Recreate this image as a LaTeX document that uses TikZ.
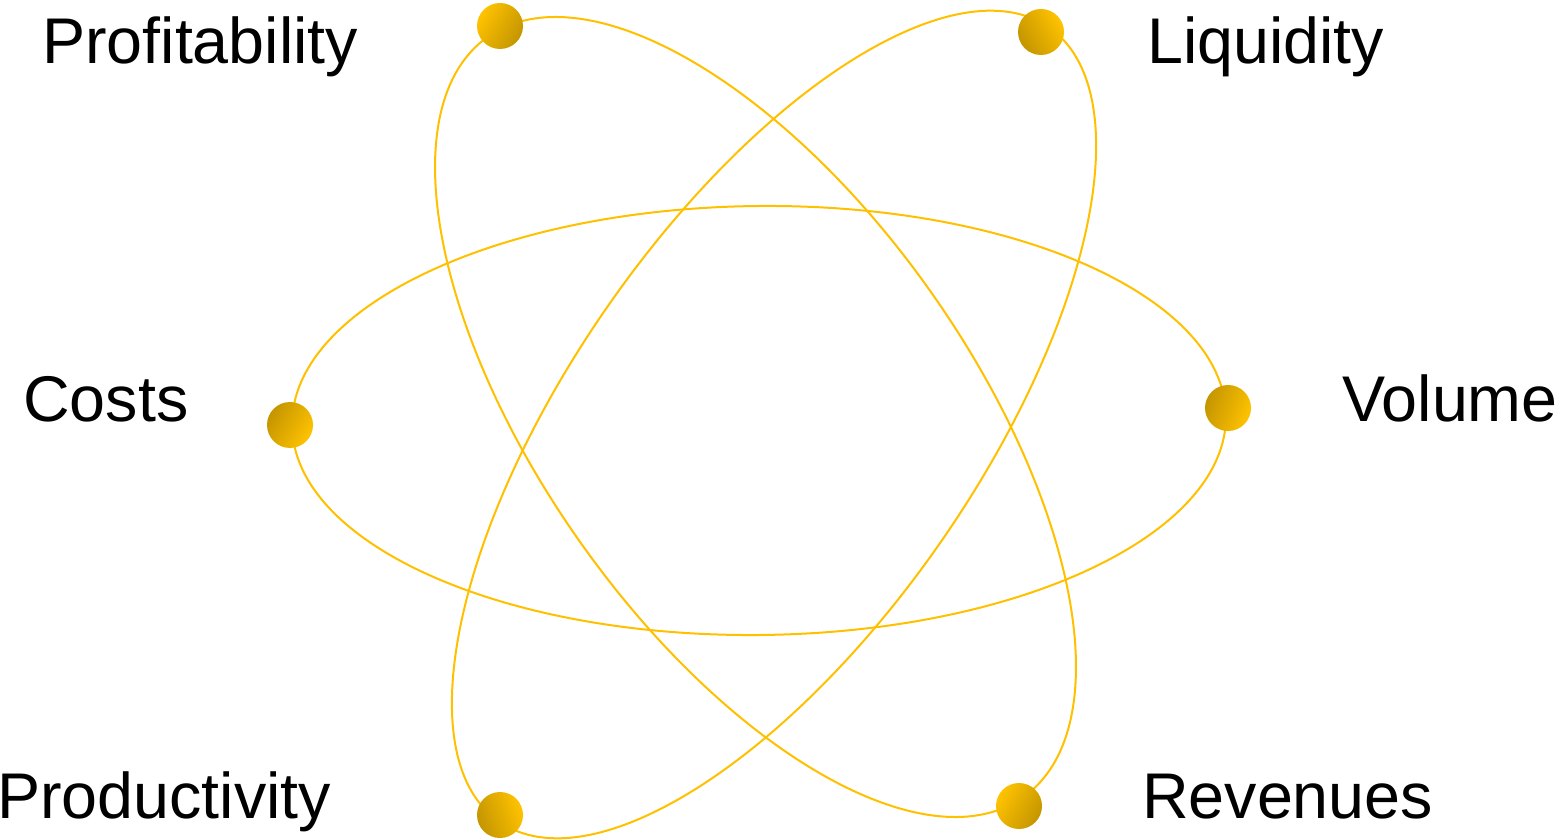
\documentclass[tikz,border=0pt]{standalone}
\usepackage{fontspec}
\setmainfont{Liberation Sans}
\definecolor{orbit}{HTML}{FFC000}
\definecolor{bright}{HTML}{FFC300}
\definecolor{dark}{HTML}{C49500}
\tikzset{
  orbitline/.style={draw=orbit, line width=2pt},
  ball/.style={circle, minimum size=46pt, inner sep=0pt, draw=none, top color=bright, bottom color=dark},
  lbl/.style={anchor=base west, inner sep=0pt, font=\fontsize{64.6}{77}\selectfont}
}
\begin{document}
\begin{tikzpicture}[x=1pt,y=1pt]
\useasboundingbox (0,0) rectangle (1562,839);
% orbits
\draw[orbitline] (759,418.5) ellipse [x radius=467pt, y radius=214.5pt, rotate=0.6];
\draw[orbitline] (755.5,422) ellipse [x radius=465pt, y radius=215.4pt, rotate=-54.85];
\draw[orbitline] (774,414.5) ellipse [x radius=483pt, y radius=204pt, rotate=55.3];
% balls
\node[ball, shading angle=60] (bprof) at (500,813) {};
\node[ball, shading angle=-60] (bliq) at (1041,807) {};
\node[ball, shading angle=-120] (bcost) at (290,414) {};
\node[ball, shading angle=-110] (bvol) at (1228,431) {};
\node[ball, shading angle=-70] (bprod) at (500,24) {};
\node[ball, shading angle=60] (brev) at (1019,33) {};
% labels
\node[lbl] (tprof) at (42,775) {Profitability};
\node[lbl] (tliq) at (1147,775) {Liquidity};
\node[lbl] (tcost) at (23,418) {Costs};
\node[lbl] (tvol) at (1342,418) {Volume};
\node[lbl] (tprod) at (-3,21) {Productivity};
\node[lbl] (trev) at (1142,21) {Revenues};
\end{tikzpicture}
\end{document}
